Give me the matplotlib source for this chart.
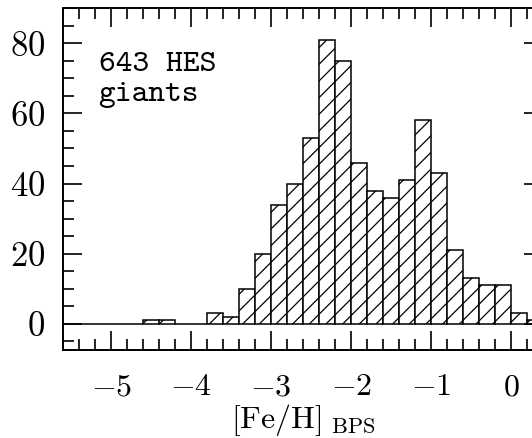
import matplotlib
matplotlib.use('Agg')
import matplotlib.pyplot as plt
from matplotlib.ticker import MultipleLocator

plt.rcParams['font.family'] = 'serif'
plt.rcParams['font.serif'] = ['cmr10']
plt.rcParams['mathtext.fontset'] = 'cm'
plt.rcParams['axes.formatter.use_mathtext'] = True
plt.rcParams['axes.unicode_minus'] = True
plt.rcParams['hatch.linewidth'] = 0.9

# left edges of the 0.2 dex bins in [Fe/H]
bin_left = [-5.6, -5.4, -5.2, -5.0, -4.8, -4.6, -4.4, -4.2, -4.0, -3.8,
            -3.6, -3.4, -3.2, -3.0, -2.8, -2.6, -2.4, -2.2, -2.0, -1.8,
            -1.6, -1.4, -1.2, -1.0, -0.8, -0.6, -0.4, -0.2, 0.0, 0.2]
counts = [0, 0, 0, 0, 0, 1, 1, 0, 0, 3,
          2, 10, 20, 34, 40, 53, 81, 75, 46, 38,
          36, 41, 58, 43, 21, 13, 11, 11, 3, 1]
bin_width = 0.2
label_text = '643 HES\ngiants'

fig = plt.figure(figsize=(5.32, 4.38), dpi=100)
ax = fig.add_axes([0.119, 0.2009, 1.0207 - 0.119, 0.981 - 0.2009])

ax.bar(bin_left, counts, width=bin_width, align='edge', facecolor='white',
       edgecolor='black', linewidth=1.1, hatch='//')

ax.set_xlim(-5.6, 0.4)
ax.set_ylim(-7.5, 90)
ax.xaxis.set_major_locator(MultipleLocator(1))
ax.xaxis.set_minor_locator(MultipleLocator(0.2))
ax.yaxis.set_major_locator(MultipleLocator(20))
ax.yaxis.set_minor_locator(MultipleLocator(5))

ax.tick_params(which='both', direction='in', top=True, right=True, width=1.2)
ax.tick_params(which='major', length=13.5)
ax.tick_params(which='minor', length=8)
ax.tick_params(axis='x', labelsize=23, pad=17)
ax.tick_params(axis='y', labelsize=25, pad=13)
for s in ax.spines.values():
    s.set_linewidth(1.4)

ax.set_xlabel(r'$[\mathrm{Fe/H}]{}_{\ \mathrm{BPS}}$', fontsize=23, labelpad=1)

ax.text(0.0736, 0.872, label_text, transform=ax.transAxes, ha='left', va='top',
        fontsize=23, family='cmtt10', linespacing=1.22)

fig.savefig('out.png', dpi=100)
